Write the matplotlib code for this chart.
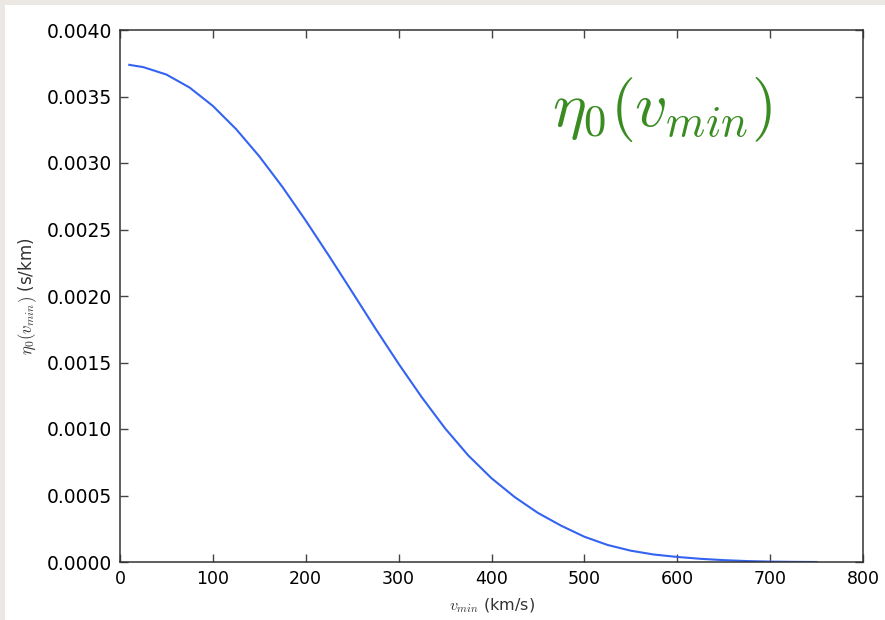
import matplotlib
matplotlib.use("Agg")
import matplotlib.pyplot as plt
from matplotlib.patches import Rectangle

# values
v_min = [10, 25, 50, 75, 100, 125, 150, 175, 200, 225, 250, 275, 300, 325,
         350, 375, 400, 425, 450, 475, 500, 525, 550, 575, 600, 625, 650,
         675, 700, 725, 750]
eta0 = [0.003738, 0.003721, 0.003665, 0.003567, 0.003429, 0.003255, 0.003050,
        0.002819, 0.002567, 0.002302, 0.002030, 0.001756, 0.001490, 0.001238,
        0.001005, 0.000801, 0.000630, 0.000488, 0.000369, 0.000273, 0.000190,
        0.000128, 0.000085, 0.000056, 0.000038, 0.000024, 0.000014, 0.000007,
        0.000003, 0.000001, 0.0]

x_ticks = [0, 100, 200, 300, 400, 500, 600, 700, 800]
y_ticks = [0.0, 0.0005, 0.0010, 0.0015, 0.0020, 0.0025, 0.0030, 0.0035, 0.0040]

plt.rcParams['mathtext.fontset'] = 'cm'
plt.rcParams['font.family'] = 'DejaVu Sans'

fig = plt.figure(figsize=(8.85, 6.2), dpi=100)
fig.patch.set_facecolor('#ebe8e3')
# white sheet behind the plot
fig.patches.append(Rectangle((5 / 885, 0), 1, 615 / 620, transform=fig.transFigure,
                             facecolor='white', edgecolor='none', zorder=-10))

ax = fig.add_axes([120 / 885, 58 / 620, 743 / 885, 532 / 620])
ax.set_zorder(5)
ax.plot(v_min, eta0, color='#3463f2', linewidth=1.5)

ax.set_xlim(0, 800)
ax.set_ylim(0, 0.004)
ax.set_xticks(x_ticks)
ax.set_yticks(y_ticks)
ax.set_xticklabels([str(t) for t in x_ticks])
ax.set_yticklabels(['%.4f' % t for t in y_ticks])

ax.tick_params(direction='in', top=True, right=True, length=6, width=1,
               color='#444444', labelsize=12.5, pad=6)
ax.tick_params(axis='y', labelsize=13.5)
for s in ax.spines.values():
    s.set_color('#333333')
    s.set_linewidth(1.1)

ax.set_xlabel(r'$v_{min}$ (km/s)', fontsize=11.5, color='#333333', labelpad=6)
ax.set_ylabel(r'$\eta_0(v_{min})$ (s/km)', fontsize=12, color='#333333', labelpad=5)

ax.text(0.73, 0.85, r'$\eta_0(v_{min})$', transform=ax.transAxes,
        fontsize=46, color='#3a8c22', ha='center', va='center')

fig.savefig('out.png', dpi=100, facecolor=fig.get_facecolor())
